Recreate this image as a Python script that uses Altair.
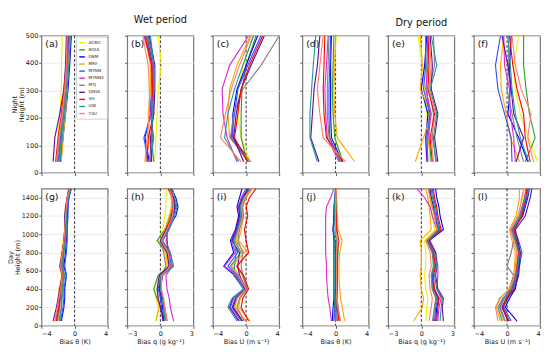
import altair as alt
import pandas as pd

FONT = "DejaVu Sans"
MODELS = ["ACM2", "BOUL", "GBM", "MRF", "MYNN", "MYNN3", "MYJ", "QNSE", "SH", "UW", "YSU"]
COLORS = ["#f2f200", "#2ca02c", "#0000ff", "#ffa500", "#3b4dff", "#d62ad6",
          "#808080", "#5b0f9a", "#ff0000", "#1f9a9a", "#fa8072"]

H_NIGHT = [40, 128, 215, 305, 392, 500]
H_DAY = [50, 200, 300, 400, 550, 650, 800, 930, 1050, 1200, 1300, 1400, 1500]

A_THETA = {
    "ACM2": [-2.1, -2.0, -1.8, -1.6, -1.6, -1.5],
    "BOUL": [-1.9, -1.6, -1.3, -1.0, -0.8, -0.6],
    "GBM": [-1.7, -1.4, -1.1, -0.8, -0.6, -0.4],
    "MRF": [-1.6, -1.4, -1.1, -0.9, -0.8, -0.7],
    "MYNN": [-2.0, -1.7, -1.4, -1.1, -0.9, -0.7],
    "MYNN3": [-2.2, -1.9, -1.5, -1.2, -1.0, -0.9],
    "MYJ": [-2.1, -1.8, -1.4, -1.1, -0.9, -0.8],
    "QNSE": [-2.6, -2.4, -1.8, -1.3, -1.1, -1.0],
    "SH": [-2.3, -2.0, -1.6, -1.3, -1.0, -0.8],
    "UW": [-1.8, -1.5, -1.2, -0.9, -0.7, -0.5],
    "YSU": [-2.2, -1.9, -1.5, -1.2, -1.0, -0.9],
}
B_Q = {
    "ACM2": [-0.5, -0.4, -0.3, -0.2, 0.1, -0.2],
    "BOUL": [-0.8, -0.7, -0.8, -0.7, -0.8, -1.3],
    "GBM": [-1.0, -1.4, -0.9, -0.8, -0.7, -1.2],
    "MRF": [-1.3, -1.0, -1.1, -0.9, -0.9, -1.4],
    "MYNN": [-1.1, -1.5, -0.8, -0.8, -0.6, -1.1],
    "MYNN3": [-0.9, -0.6, -0.9, -0.6, -0.7, -1.5],
    "MYJ": [-1.0, -0.8, -0.7, -0.8, -0.6, -1.2],
    "QNSE": [-0.8, -0.9, -0.6, -0.5, -0.5, -1.0],
    "SH": [-1.2, -1.1, -0.6, -0.7, -0.8, -1.4],
    "UW": [-0.6, -0.8, -0.7, -0.6, -0.6, -0.9],
    "YSU": [-1.4, -1.2, -1.0, -1.0, -1.1, -1.6],
}
C_U = {
    "ACM2": [0.5, -0.6, -1.0, -1.0, -0.3, 0.8],
    "BOUL": [0.1, -0.6, -0.6, -0.5, 0.0, 1.2],
    "GBM": [0.5, -1.6, -1.6, -1.1, 0.0, 1.4],
    "MRF": [0.6, -2.0, -2.2, -2.0, -1.1, 0.5],
    "MYNN": [0.3, -1.8, -1.4, -1.0, 0.2, 1.8],
    "MYNN3": [-1.1, -2.3, -2.8, -2.9, -2.0, 0.3],
    "MYJ": [0.2, -1.9, -1.5, -0.4, 1.8, 4.0],
    "QNSE": [-0.3, -1.5, -1.2, -0.6, 0.6, 2.2],
    "SH": [0.2, -1.4, -1.0, -0.6, 0.4, 2.0],
    "UW": [-0.9, -2.6, -2.2, -1.4, -0.4, 0.9],
    "YSU": [-0.6, -3.1, -2.5, -1.8, -0.8, 0.6],
}
D_THETA = {
    "ACM2": [0.7, -0.1, -0.3, -0.3, -0.2, 0.1],
    "BOUL": [0.9, -0.1, -0.3, -0.4, -0.3, -0.2],
    "GBM": [0.8, -0.5, -0.6, -0.6, -0.6, -0.5],
    "MRF": [2.3, 0.2, -0.1, -0.2, -0.1, 0.0],
    "MYNN": [0.6, -0.7, -0.8, -0.8, -0.7, -0.6],
    "MYNN3": [0.4, -1.0, -1.2, -1.3, -1.1, -0.9],
    "MYJ": [0.5, -0.8, -1.0, -1.0, -0.9, -0.8],
    "QNSE": [-2.0, -3.0, -2.8, -2.6, -2.2, -1.9],
    "SH": [0.9, -1.1, -1.4, -1.5, -1.4, -1.3],
    "UW": [-2.2, -3.1, -3.1, -2.9, -2.7, -2.4],
    "YSU": [1.2, -1.5, -1.9, -2.2, -1.9, -1.5],
}
E_Q = {
    "ACM2": [0.8, 0.6, 0.5, 0.3, 0.1, -0.3],
    "BOUL": [0.9, 0.7, 0.7, 0.5, 0.5, 0.6],
    "GBM": [0.5, 0.4, 0.6, 0.0, 0.3, 0.5],
    "MRF": [-0.55, 0.2, 0.9, -0.1, 0.1, -0.1],
    "MYNN": [0.6, 0.5, 0.8, 0.2, 0.4, 0.4],
    "MYNN3": [0.5, 0.6, 0.9, 0.4, 0.6, 0.7],
    "MYJ": [1.4, 1.0, 1.1, 0.7, 1.2, 1.1],
    "QNSE": [1.5, 1.2, 1.5, 0.9, 1.0, 0.8],
    "SH": [1.0, 0.8, 1.2, 0.6, 0.7, 0.6],
    "UW": [1.3, 1.1, 1.4, 0.8, 1.4, 0.9],
    "YSU": [1.1, 0.9, 1.3, 0.7, 0.9, 0.7],
}
F_U = {
    "ACM2": [3.7, 2.6, 1.6, 1.0, 0.8, 1.4],
    "BOUL": [2.2, 3.4, 2.7, 2.3, 2.0, 2.0],
    "GBM": [2.5, 1.4, 0.1, 0.4, 0.3, 0.5],
    "MRF": [1.5, 0.4, -0.1, -0.7, -0.8, -0.4],
    "MYNN": [0.6, 0.5, -0.3, -1.1, -1.4, -0.8],
    "MYNN3": [1.0, 0.8, 0.4, 0.3, -0.3, -0.4],
    "MYJ": [2.0, 1.2, 0.6, 0.0, 0.2, 0.2],
    "QNSE": [1.1, 2.0, 0.8, 0.5, 0.1, -0.6],
    "SH": [2.8, 2.2, 2.0, 1.2, 0.7, 0.3],
    "UW": [2.6, 1.6, 1.0, 0.6, 0.4, 0.1],
    "YSU": [3.2, 2.5, 2.9, 1.7, 1.0, 0.6],
}
G_THETA = {
    "ACM2": [-2.2, -1.9, -1.8, -1.8, -1.6, -1.8, -1.6, -1.4, -1.2, -1.2, -1.1, -0.9, -0.5],
    "BOUL": [-1.9, -1.6, -1.6, -1.5, -1.3, -1.4, -1.3, -1.2, -1.1, -1.0, -0.9, -0.8, -0.5],
    "GBM": [-1.6, -1.3, -1.2, -1.2, -1.0, -1.3, -1.1, -1.0, -0.9, -0.9, -0.8, -0.7, -0.4],
    "MRF": [-2.0, -1.8, -1.9, -1.9, -1.5, -1.7, -1.5, -1.3, -1.0, -1.1, -1.0, -0.8, -0.6],
    "MYNN": [-1.7, -1.4, -1.3, -1.3, -1.0, -1.2, -1.0, -0.9, -0.9, -0.8, -0.8, -0.7, -0.5],
    "MYNN3": [-2.3, -2.0, -1.9, -1.7, -1.4, -1.6, -1.4, -1.3, -1.2, -1.1, -1.0, -0.9, -0.6],
    "MYJ": [-2.1, -1.8, -1.7, -1.6, -1.4, -1.6, -1.4, -1.2, -1.1, -1.1, -1.0, -0.8, -0.6],
    "QNSE": [-2.6, -2.2, -2.0, -1.8, -1.5, -1.8, -1.5, -1.3, -1.2, -1.2, -1.1, -0.9, -0.7],
    "SH": [-2.2, -1.9, -1.8, -1.7, -1.5, -1.7, -1.5, -1.3, -1.1, -1.0, -1.0, -0.9, -0.7],
    "UW": [-1.8, -1.6, -1.5, -1.4, -1.2, -1.5, -1.3, -1.1, -1.0, -1.0, -0.9, -0.8, -0.4],
    "YSU": [-2.4, -2.1, -1.9, -1.7, -1.5, -1.7, -1.5, -1.3, -1.2, -1.1, -1.0, -0.9, -0.6],
}
H_Q = {
    "ACM2": [-0.4, -0.2, -0.4, -0.6, -0.1, 0.6, 0.4, -0.2, 0.2, 0.4, 0.5, 0.5, 0.6],
    "BOUL": [0.3, 0.0, -0.3, -0.6, -0.2, 0.8, 0.6, -0.3, 0.4, 0.9, 1.1, 1.0, 0.8],
    "GBM": [0.3, 0.2, 0.1, -0.1, 0.0, 0.9, 0.7, 0.6, 0.6, 1.4, 1.6, 1.4, 1.0],
    "MRF": [-0.4, -0.1, -0.2, -0.3, 0.0, 0.7, 0.5, 0.0, 0.4, 0.8, 1.0, 1.0, 0.7],
    "MYNN": [0.2, 0.1, 0.0, -0.2, 0.1, 1.0, 0.8, 0.2, 0.7, 1.2, 1.4, 1.2, 0.9],
    "MYNN3": [1.2, 0.9, 0.8, 0.6, 0.5, 1.1, 0.9, 0.5, 0.7, 1.1, 1.3, 1.2, 0.9],
    "MYJ": [0.5, 0.3, 0.2, 0.0, 0.1, 0.5, 0.3, 0.0, 0.5, 1.0, 1.2, 1.1, 0.8],
    "QNSE": [0.3, 0.0, -0.2, -0.3, -0.1, 0.8, 0.6, 0.0, 0.5, 1.1, 1.3, 1.2, 0.7],
    "SH": [0.6, 0.4, 0.2, 0.0, 0.2, 0.9, 0.7, 0.1, 0.6, 1.0, 1.2, 1.1, 0.9],
    "UW": [0.4, 0.3, 0.2, 0.0, 0.2, 1.2, 0.9, 0.2, 0.8, 1.3, 1.5, 1.3, 1.1],
    "YSU": [0.6, 0.4, 0.3, 0.1, 0.1, 0.9, 0.7, 0.1, 0.6, 1.1, 1.2, 1.1, 0.8],
}
I_U = {
    "ACM2": [-0.3, -1.2, -1.0, -0.1, -0.8, -1.6, -0.3, -1.2, -0.9, -0.4, -0.6, -0.2, 0.5],
    "BOUL": [-0.5, -1.5, -1.2, 0.0, -0.9, -1.9, -0.6, -1.4, -1.0, -0.5, -0.7, -0.3, 0.4],
    "GBM": [-0.9, -2.0, -1.6, -0.2, -1.4, -2.7, -1.5, -1.9, -1.3, -0.9, -1.1, -0.8, -0.5],
    "MRF": [0.5, -0.9, -0.7, 0.2, -0.5, -1.2, 0.2, -0.9, -0.6, -0.3, -0.4, 0.0, 0.8],
    "MYNN": [-0.6, -1.7, -1.3, -0.1, -1.1, -2.2, -1.0, -1.6, -1.1, -0.6, -0.8, -0.5, 0.2],
    "MYNN3": [-0.8, -1.9, -1.5, -0.3, -1.2, -2.6, -1.3, -1.8, -1.2, -0.7, -0.9, -0.6, 0.0],
    "MYJ": [-0.2, -1.1, -0.8, 0.1, -0.4, -0.6, -0.4, -1.0, -0.8, -0.3, -0.5, -0.1, 0.6],
    "QNSE": [-0.4, -1.6, -1.2, 0.0, -0.8, -1.0, -0.8, -1.7, -1.2, -0.8, -0.9, -0.4, 0.3],
    "SH": [0.3, -0.6, -0.4, 0.3, -0.3, -1.1, 0.3, 0.0, -0.2, 0.2, 0.0, 0.4, 1.2],
    "UW": [-1.1, -2.2, -1.7, -0.3, -1.5, -1.4, -1.2, -1.5, -1.0, -0.6, -0.7, -0.3, 0.5],
    "YSU": [0.0, -1.4, -1.1, 0.0, -0.9, -1.8, -0.2, -1.3, -0.9, -0.4, -0.6, -0.2, 0.7],
}
J_THETA = {
    "ACM2": [0.3, 0.1, 0.1, 0.1, 0.1, 0.1, 0.1, 0.2, 0.1, 0.1, 0.1, 0.1, 0.1],
    "BOUL": [0.5, 0.3, 0.2, 0.2, 0.2, 0.2, 0.3, 0.3, 0.2, 0.1, 0.1, 0.1, 0.1],
    "GBM": [-0.4, -0.3, -0.2, -0.2, -0.2, -0.2, -0.2, -0.2, -0.3, -0.2, -0.2, -0.1, 0.0],
    "MRF": [1.1, 0.8, 0.6, 0.5, 0.4, 0.4, 0.5, 0.8, 0.3, 0.2, 0.2, 0.1, 0.1],
    "MYNN": [0.2, 0.1, 0.0, 0.0, 0.0, 0.0, 0.0, -0.1, -0.3, -0.1, 0.0, 0.0, 0.0],
    "MYNN3": [-0.5, -0.7, -0.9, -1.0, -1.1, -1.1, -1.2, -1.2, -1.2, -1.2, -1.1, -0.6, -0.2],
    "MYJ": [0.1, 0.0, 0.0, 0.0, 0.1, 0.1, 0.1, 0.1, 0.0, 0.0, 0.0, 0.0, 0.0],
    "QNSE": [-0.2, -0.1, -0.1, 0.0, 0.0, 0.0, 0.0, -0.1, -0.3, -0.2, -0.1, 0.0, 0.0],
    "SH": [0.4, 0.2, 0.2, 0.2, 0.2, 0.2, 0.2, 0.4, 0.1, 0.1, 0.0, 0.0, 0.0],
    "UW": [0.0, -0.1, -0.1, -0.1, -0.1, -0.1, -0.1, -0.1, -0.2, -0.1, -0.1, -0.1, 0.0],
    "YSU": [0.6, 0.3, 0.2, 0.1, 0.1, 0.1, 0.1, 0.3, 0.0, 0.0, 0.0, 0.0, 0.1],
}
K_Q = {
    "ACM2": [0.4, 0.5, 0.6, 0.4, 0.3, 0.4, 0.4, 0.3, 1.2, 1.0, 0.9, 0.6, 0.5],
    "BOUL": [1.1, 1.2, 1.4, 1.0, 0.9, 1.1, 1.0, 0.5, 1.5, 1.2, 1.0, 0.8, 0.7],
    "GBM": [1.3, 1.4, 1.6, 1.1, 1.0, 1.2, 1.1, 0.7, 2.0, 1.7, 1.6, 1.4, 1.3],
    "MRF": [-0.7, 0.1, 0.2, 0.0, -0.1, 0.0, 0.0, -0.1, 0.9, 0.8, 0.7, 0.6, 0.4],
    "MYNN": [1.2, 1.3, 1.5, 1.1, 1.0, 1.2, 1.0, 0.6, 1.7, 1.4, 1.3, 1.1, 1.0],
    "MYNN3": [1.5, 1.6, 1.8, 1.4, 1.5, 1.5, 1.3, 0.8, 1.4, 1.0, 0.8, 0.3, -0.4],
    "MYJ": [1.0, 1.2, 1.3, 1.0, 0.9, 1.2, 1.0, 0.5, 1.5, 1.3, 1.1, 0.9, 0.8],
    "QNSE": [2.0, 1.9, 2.0, 1.5, 1.3, 1.4, 1.3, 0.7, 1.6, 1.2, 1.1, 0.9, 0.8],
    "SH": [1.4, 1.5, 1.6, 1.2, 1.1, 1.3, 1.1, 0.6, 1.8, 1.5, 1.4, 1.2, 1.1],
    "UW": [1.7, 1.8, 1.9, 1.4, 1.2, 1.4, 1.2, 0.6, 1.6, 1.3, 1.2, 1.0, 0.9],
    "YSU": [0.7, 0.9, 1.0, 0.8, 0.7, 0.9, 0.8, 0.4, 1.4, 1.2, 1.0, 0.8, 0.6],
}
L_U = {
    "ACM2": [-0.5, -1.0, -0.4, 0.4, 1.0, 1.1, 1.3, 0.9, 0.5, 1.4, 1.6, 1.9, 2.1],
    "BOUL": [0.3, -0.6, -0.1, 0.7, 1.3, 1.4, 1.6, 1.2, 0.8, 1.7, 2.0, 2.3, 2.5],
    "GBM": [1.2, -0.2, 0.3, 1.0, 1.3, 1.3, 1.5, 1.1, 0.7, 1.9, 2.2, 2.5, 2.7],
    "MRF": [-0.8, -1.3, -0.8, 0.2, 0.8, 0.9, 1.0, 0.6, 0.3, 1.1, 1.3, 1.5, 1.5],
    "MYNN": [0.5, -0.4, 0.1, 0.8, 1.2, 1.5, 1.8, 1.4, 0.9, 1.8, 2.1, 2.4, 2.6],
    "MYNN3": [-0.3, -0.9, -0.4, 0.5, 1.0, 1.2, 1.4, 1.0, 0.6, 1.5, 1.8, 2.1, 2.3],
    "MYJ": [-0.2, -0.8, -0.3, 0.3, 0.8, 0.0, 0.5, 0.8, 0.5, 1.6, 1.9, 2.2, 2.4],
    "QNSE": [0.1, -0.6, 0.0, 0.9, 1.4, 1.5, 1.6, 1.3, 1.0, 2.2, 2.5, 2.8, 3.0],
    "SH": [0.2, -0.5, -0.1, 0.6, 1.1, 1.2, 1.4, 1.1, 0.8, 1.8, 2.0, 2.3, 2.4],
    "UW": [-0.6, -1.1, -0.5, 0.5, 1.1, 1.3, 1.5, 1.0, 0.7, 1.6, 1.9, 2.2, 2.8],
    "YSU": [-1.1, -1.4, -0.9, 0.3, 0.9, 1.0, 1.2, 0.8, 0.4, 1.3, 1.6, 1.8, 2.0],
}

X_TITLES = {"theta": "Bias θ (K)", "q": "Bias q (g kg⁻¹)", "U": "Bias U (m s⁻¹)"}
W, H = 71, 147


def panel(letter, data, var, day, first_col, head=None, head_y=-11):
    heights = H_DAY if day else H_NIGHT
    rows = [{"m": m, "h": h, "v": v}
            for m in MODELS for h, v in zip(heights, data[m])]
    df = pd.DataFrame(rows)
    lim = 3 if var == "q" else 4
    x_enc = alt.X("v:Q", scale=alt.Scale(domain=[-lim, lim], nice=False, zero=False),
                  axis=alt.Axis(values=[-lim, 0, lim], labels=day, ticks=True, format="d",
                                title=X_TITLES[var] if day else None, grid=False))
    if day:
        yvals, ydom = list(range(0, 1401, 200)), [0, 1500]
        ytitle = ["Day", "Height (m)"]
    else:
        yvals, ydom = list(range(0, 501, 100)), [0, 500]
        ytitle = ["Night", "Height (m)"]
    y_enc = alt.Y("h:Q", scale=alt.Scale(domain=ydom, nice=False),
                  axis=alt.Axis(values=yvals, labels=first_col, format="d",
                                title=ytitle if first_col else None, grid=True,
                                labelPadding=1, titlePadding=1, titleLineHeight=7.5))
    if letter == "a":
        legend = alt.Legend(orient="top-right", title=None, labelFontSize=4.5,
                            symbolType="stroke", symbolStrokeWidth=1.5, symbolSize=36,
                            rowPadding=0.6, padding=2.5, fillColor="white",
                            strokeColor="#cccccc", cornerRadius=2, offset=1,
                            labelOffset=3, labelFont=FONT, labelColor="#222")
    else:
        legend = None
    lines = alt.Chart(df).mark_line(strokeWidth=1.2, clip=True).encode(
        x=x_enc, y=y_enc,
        color=alt.Color("m:N", scale=alt.Scale(domain=MODELS, range=COLORS),
                        sort=MODELS, legend=legend),
        order=alt.Order("h:Q"),
    )
    zero = alt.Chart(pd.DataFrame({"v": [0.0]})).mark_rule(
        color="#222", strokeDash=[3, 2], strokeWidth=1).encode(x=x_enc)
    lab = alt.Chart(pd.DataFrame({"t": [f"({letter})"]})).mark_text(
        align="left", baseline="top", fontSize=10, font=FONT, color="#111").encode(
        x=alt.value(4), y=alt.value(4), text="t:N")
    layers = [zero, lines, lab]
    if head:
        layers.append(alt.Chart(pd.DataFrame({"t": [head]})).mark_text(
            align="center", baseline="alphabetic", fontSize=10.5, font=FONT,
            color="#111").encode(x=alt.value(W / 2), y=alt.value(head_y), text="t:N"))
    return alt.layer(*layers).properties(width=W, height=H)


def row(*charts):
    return alt.hconcat(*charts, spacing=14).resolve_scale(color="independent")


wet = alt.vconcat(
    row(panel("a", A_THETA, "theta", False, True),
        panel("b", B_Q, "q", False, False, head="Wet period", head_y=-14),
        panel("c", C_U, "U", False, False)),
    row(panel("g", G_THETA, "theta", True, True), panel("h", H_Q, "q", True, False),
        panel("i", I_U, "U", True, False)),
    spacing=10,
).resolve_scale(color="independent")

dry = alt.vconcat(
    row(panel("d", D_THETA, "theta", False, False),
        panel("e", E_Q, "q", False, False, head="Dry period", head_y=-11),
        panel("f", F_U, "U", False, False)),
    row(panel("j", J_THETA, "theta", True, False), panel("k", K_Q, "q", True, False),
        panel("l", L_U, "U", True, False)),
    spacing=10,
).resolve_scale(color="independent")

chart = alt.hconcat(wet, dry, spacing=18).resolve_scale(color="independent").properties(
    padding={"left": -2, "top": -6, "right": 0, "bottom": 0}
).configure(background="white").configure_view(
    stroke="#7a7a7a", strokeWidth=1.3).configure_axis(
    labelFont=FONT, titleFont=FONT, labelFontSize=7, titleFontSize=7,
    labelColor="#222", titleColor="#222", titleFontWeight="normal",
    tickSize=3, tickColor="#555", domain=False, gridColor="#e8e8e8",
    labelPadding=1.5, titlePadding=2,
)

chart.save("out.html", embed_options={"renderer": "svg", "actions": False})
